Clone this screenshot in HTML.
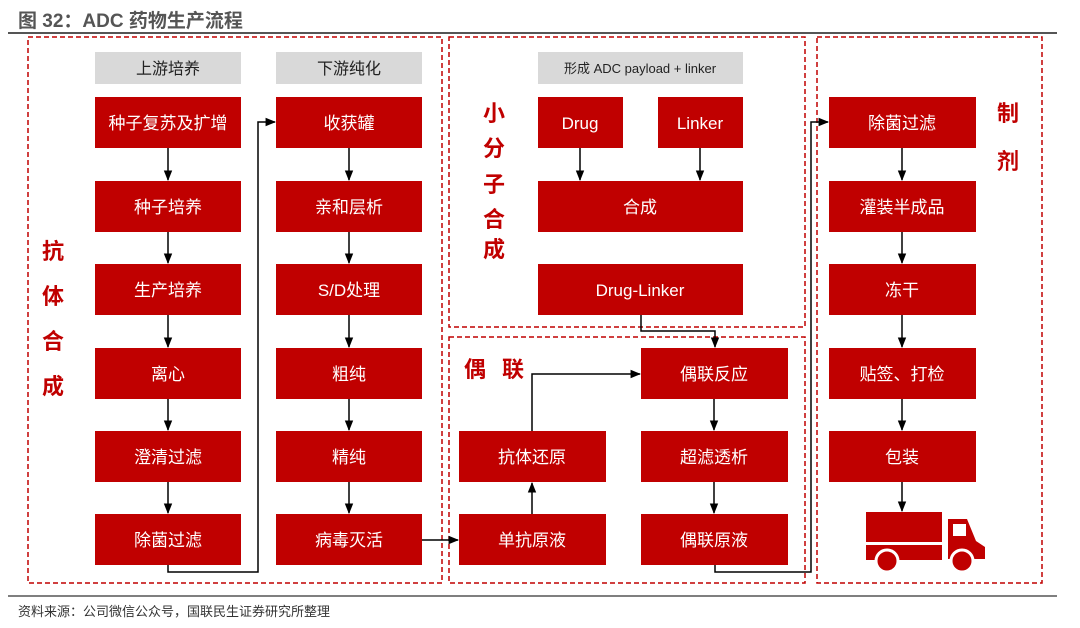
<!DOCTYPE html>
<html><head><meta charset="utf-8"><style>
body{margin:0;width:1080px;height:623px;background:#fff;overflow:hidden}
svg text{font-family:"Liberation Sans","Noto Sans CJK SC",sans-serif}
</style></head><body>
<svg width="1080" height="623" viewBox="0 0 1080 623" xmlns="http://www.w3.org/2000/svg">
<defs><marker id="a" viewBox="0 0 10 10" refX="9" refY="5" markerWidth="7" markerHeight="7" orient="auto"><path d="M0,1 L10,5 L0,9z" fill="#000"/></marker></defs>
<text x="18" y="27" font-size="19" font-weight="bold" fill="#555">图 32：ADC 药物生产流程</text>
<line x1="8" y1="33" x2="1057" y2="33" stroke="#555" stroke-width="2"/>
<line x1="8" y1="596" x2="1057" y2="596" stroke="#555" stroke-width="1.5"/>
<text x="18" y="616" font-size="13" fill="#333">资料来源：公司微信公众号，国联民生证券研究所整理</text>
<g fill="none" stroke="#c00000" stroke-width="1.5" stroke-dasharray="5,3">
<rect x="28" y="37" width="414" height="546"/>
<rect x="449" y="37" width="356" height="290"/>
<rect x="449" y="337" width="356" height="246"/>
<rect x="817" y="37" width="225" height="546"/>
</g>
<g fill="#d9d9d9"><rect x="95" y="52" width="146" height="32"/><rect x="276" y="52" width="146" height="32"/><rect x="538" y="52" width="205" height="32"/></g>
<g font-size="16" fill="#222" text-anchor="middle"><text x="168" y="74">上游培养</text><text x="349" y="74">下游纯化</text><text x="640" y="73" font-size="13">形成 ADC payload + linker</text></g>
<g fill="#c00000">
<rect x="95" y="97" width="146" height="51"/><rect x="95" y="181" width="146" height="51"/><rect x="95" y="264" width="146" height="51"/><rect x="95" y="348" width="146" height="51"/><rect x="95" y="431" width="146" height="51"/><rect x="95" y="514" width="146" height="51"/>
<rect x="276" y="97" width="146" height="51"/><rect x="276" y="181" width="146" height="51"/><rect x="276" y="264" width="146" height="51"/><rect x="276" y="348" width="146" height="51"/><rect x="276" y="431" width="146" height="51"/><rect x="276" y="514" width="146" height="51"/>
<rect x="538" y="97" width="85" height="51"/><rect x="658" y="97" width="85" height="51"/><rect x="538" y="181" width="205" height="51"/><rect x="538" y="264" width="205" height="51"/>
<rect x="641" y="348" width="147" height="51"/><rect x="641" y="431" width="147" height="51"/><rect x="641" y="514" width="147" height="51"/><rect x="459" y="431" width="147" height="51"/><rect x="459" y="514" width="147" height="51"/>
<rect x="829" y="97" width="147" height="51"/><rect x="829" y="181" width="147" height="51"/><rect x="829" y="264" width="147" height="51"/><rect x="829" y="348" width="147" height="51"/><rect x="829" y="431" width="147" height="51"/>
<rect x="866" y="512" width="76" height="30"/><rect x="866" y="545" width="76" height="15"/>
<path d="M948,519 H967 L976,541 L985,547 V559 H948z"/>
<circle cx="887" cy="561" r="11" stroke="#fff" stroke-width="3"/><circle cx="962" cy="561" r="11" stroke="#fff" stroke-width="3"/>
</g>
<rect x="953" y="524" width="13" height="12" fill="#fff"/>
<g font-size="17" fill="#fff" text-anchor="middle">
<text x="168" y="129">种子复苏及扩增</text><text x="168" y="213">种子培养</text><text x="168" y="296">生产培养</text><text x="168" y="380">离心</text><text x="168" y="463">澄清过滤</text><text x="168" y="546">除菌过滤</text>
<text x="349" y="129">收获罐</text><text x="349" y="213">亲和层析</text><text x="349" y="296">S/D处理</text><text x="349" y="380">粗纯</text><text x="349" y="463">精纯</text><text x="349" y="546">病毒灭活</text>
<text x="580" y="129">Drug</text><text x="700" y="129">Linker</text><text x="640" y="213">合成</text><text x="640" y="296">Drug-Linker</text>
<text x="714" y="380">偶联反应</text><text x="714" y="463">超滤透析</text><text x="714" y="546">偶联原液</text><text x="532" y="463">抗体还原</text><text x="532" y="546">单抗原液</text>
<text x="902" y="129">除菌过滤</text><text x="902" y="213">灌装半成品</text><text x="902" y="296">冻干</text><text x="902" y="380">贴签、打检</text><text x="902" y="463">包装</text>
</g>
<g font-size="22" font-weight="bold" fill="#c00000" text-anchor="middle">
<text x="53" y="259">抗</text><text x="53" y="304">体</text><text x="53" y="349">合</text><text x="53" y="394">成</text>
<text x="494" y="121">小</text><text x="494" y="156">分</text><text x="494" y="192">子</text><text x="494" y="227">合</text><text x="494" y="257">成</text>
<text x="475" y="377">偶</text><text x="513" y="377">联</text>
<text x="1008" y="121">制</text><text x="1008" y="169">剂</text>
</g>
<g stroke="#000" stroke-width="1.5" fill="none" marker-end="url(#a)">
<line x1="168" y1="148" x2="168" y2="180"/><line x1="168" y1="232" x2="168" y2="263"/><line x1="168" y1="315" x2="168" y2="347"/><line x1="168" y1="399" x2="168" y2="430"/><line x1="168" y1="482" x2="168" y2="513"/>
<line x1="349" y1="148" x2="349" y2="180"/><line x1="349" y1="232" x2="349" y2="263"/><line x1="349" y1="315" x2="349" y2="347"/><line x1="349" y1="399" x2="349" y2="430"/><line x1="349" y1="482" x2="349" y2="513"/>
<polyline points="168,565 168,572 258,572 258,122 275,122"/>
<line x1="422" y1="540" x2="458" y2="540"/>
<line x1="580" y1="148" x2="580" y2="180"/><line x1="700" y1="148" x2="700" y2="180"/>
<polyline points="641,315 641,331 715,331 715,347"/>
<line x1="532" y1="514" x2="532" y2="483"/>
<polyline points="532,431 532,374 640,374"/>
<line x1="714" y1="399" x2="714" y2="430"/><line x1="714" y1="482" x2="714" y2="513"/>
<polyline points="715,565 715,572 811,572 811,122 828,122"/>
<line x1="902" y1="148" x2="902" y2="180"/><line x1="902" y1="232" x2="902" y2="263"/><line x1="902" y1="315" x2="902" y2="347"/><line x1="902" y1="399" x2="902" y2="430"/><line x1="902" y1="482" x2="902" y2="511"/>
</g>
</svg>
</body></html>
